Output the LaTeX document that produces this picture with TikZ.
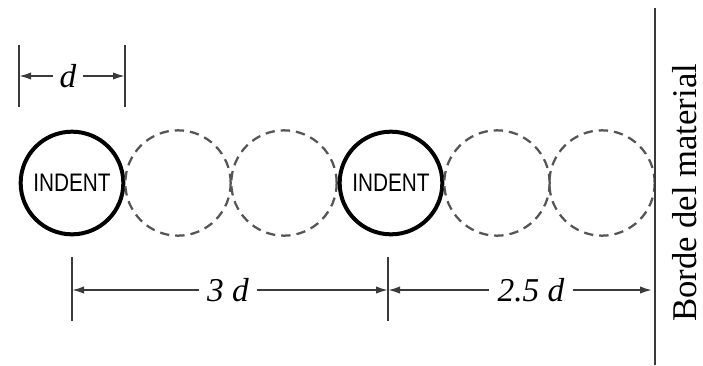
\documentclass[tikz,border=0pt]{standalone}
\usepackage{fontspec}
\setmainfont{Liberation Serif}
\newfontfamily\indentfont{Liberation Sans}
\usetikzlibrary{arrows.meta}
\definecolor{dimgray}{HTML}{3A3A3A}
\definecolor{dashgray}{HTML}{555555}
\begin{document}
\begin{tikzpicture}[x=0.75pt,y=-0.75pt,
  solidhole/.style={circle,draw=black,line width=3pt,minimum size=77pt,inner sep=0pt},
  dashhole/.style={circle,draw=dashgray,line width=1.7pt,dash pattern=on 7pt off 4.5pt,minimum size=79pt,inner sep=0pt},
  indentlabel/.style={font=\indentfont\fontsize{19}{19}\selectfont,xscale=0.82},
  tickline/.style={draw=dimgray,line width=1.4pt},
  dimarrow/.style={draw=dimgray,line width=1.3pt,-{Latex[length=9pt,width=5.5pt]}},
  dimlabel/.style={font=\fontsize{25}{25}\selectfont\itshape,inner sep=6pt,fill=white}
]
\useasboundingbox (0,0) rectangle (703,365);
% holes
\node[solidhole] (c1) at (72,183) {};
\node[indentlabel] at (c1) {INDENT};
\node[dashhole] (c2) at (178,183) {};
\node[dashhole] (c3) at (284,183) {};
\node[solidhole] (c4) at (391,183) {};
\node[indentlabel] at (c4) {INDENT};
\node[dashhole] (c5) at (497,183) {};
\node[dashhole] (c6) at (602,183) {};
% border of material
\coordinate (bt) at (655,8);
\coordinate (bb) at (655,365);
\draw[draw=dimgray,line width=1.6pt] (bt) -- (bb);
\node[rotate=90,font=\fontsize{26}{26}\selectfont] (borde) at (685,193) {Borde del material};
% d dimension
\coordinate (dlt) at (19,45); \coordinate (dlb) at (19,107);
\coordinate (drt) at (125,45); \coordinate (drb) at (125,107);
\coordinate (dl) at (19,76); \coordinate (dr) at (125,76);
\draw[tickline] (dlt) -- (dlb);
\draw[tickline] (drt) -- (drb);
\node[dimlabel,inner sep=5pt] (dlab) at (68,76) {d};
\draw[dimarrow] (dlab.west) -- (dl);
\draw[dimarrow] (dlab.east) -- (dr);
% 3d and 2.5d dimensions
\coordinate (alt) at (72,257); \coordinate (alb) at (72,321);
\coordinate (amt) at (388,257); \coordinate (amb) at (388,321);
\coordinate (al) at (72,290); \coordinate (am) at (388,290);
\coordinate (ar) at (652,290);
\draw[tickline] (alt) -- (alb);
\draw[tickline] (amt) -- (amb);
\node[dimlabel] (tlab) at (228,290) {3 d};
\draw[dimarrow] (tlab.west) -- (al);
\draw[dimarrow] (tlab.east) -- (am);
\node[dimlabel] (flab) at (531,290) {2.5 d};
\draw[dimarrow] (flab.west) -- (am);
\draw[dimarrow] (flab.east) -- (ar);
\end{tikzpicture}
\end{document}
